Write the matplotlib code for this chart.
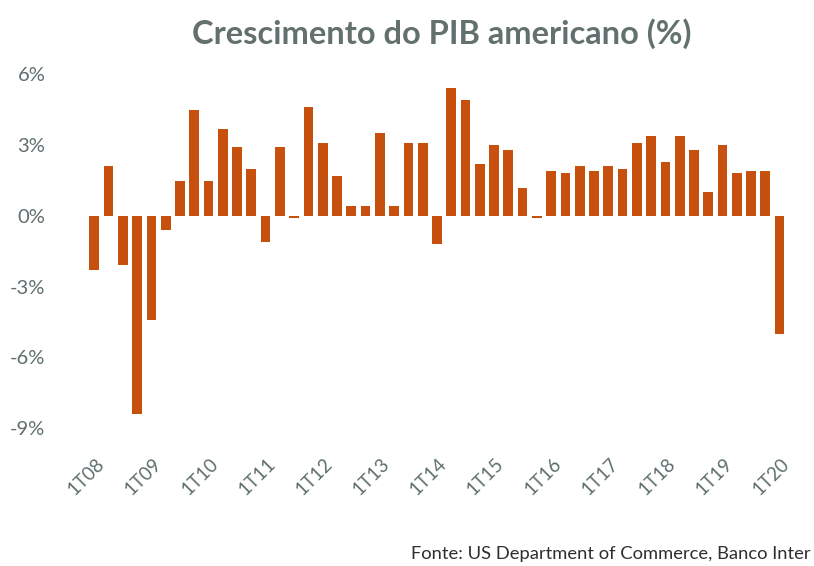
import matplotlib.pyplot as plt
import matplotlib.transforms as mtransforms

# Quarterly US GDP growth, annualized (%) - 1T08 .. 1T20
quarters = [f"{q}T{y:02d}" for y in range(8, 21) for q in range(1, 5)][:49]
growth = [
    -2.3, 2.1, -2.1, -8.4,
    -4.4, -0.6, 1.5, 4.5,
    1.5, 3.7, 2.9, 2.0,
    -1.1, 2.9, -0.1, 4.6,
    3.1, 1.7, 0.4, 0.4,
    3.5, 0.4, 3.1, 3.1,
    -1.2, 5.4, 4.9, 2.2,
    3.0, 2.8, 1.2, -0.1,
    1.9, 1.8, 2.1, 1.9,
    2.1, 2.0, 3.1, 3.4,
    2.3, 3.4, 2.8, 1.0,
    3.0, 1.8, 1.9, 1.9,
    -5.0,
]
yticks = [6, 3, 0, -3, -6, -9]

BAR_COLOR = "#c8500e"
TEXT_COLOR = "#5f6e6e"

plt.rcParams['font.family'] = ['Lato', 'DejaVu Sans']

fig = plt.figure(figsize=(8.14, 5.66), dpi=100)
ax = fig.add_axes([0.0983, 0.2226, 0.877, 0.6794])

x = range(len(growth))
ax.bar(x, growth, width=0.68, color=BAR_COLOR)

ax.set_xlim(-1, len(growth))
ax.set_ylim(-9.5, 6.8)

ax.set_yticks(yticks)
ax.set_yticklabels([f"{v}%" for v in yticks], fontsize=14.5, color=TEXT_COLOR)
ax.tick_params(axis='y', length=0, pad=25)

xt = [i for i, q in enumerate(quarters) if q.startswith("1T")]
ax.set_xticks(xt)
ax.set_xticklabels([quarters[i] for i in xt], rotation=45, ha='right', va='center',
                   rotation_mode='anchor', fontsize=13.5, color=TEXT_COLOR)
ax.tick_params(axis='x', length=0, pad=15)
# nudge the rotated labels a bit to the right, like the source
shift = mtransforms.ScaledTranslation(5 / 72, 0, fig.dpi_scale_trans)
for lbl in ax.get_xticklabels():
    lbl.set_transform(lbl.get_transform() + shift)

for s in ax.spines.values():
    s.set_visible(False)

fig.text(0.543, 0.94, "Crescimento do PIB americano (%)", ha='center', va='center',
         fontsize=23.5, fontweight='bold', color="#62706e")
fig.text(0.996, 0.022, "Fonte: US Department of Commerce, Banco Inter",
         ha='right', va='center', fontsize=13.2, color="#2f2f2f")

fig.savefig("out.png", dpi=100)
